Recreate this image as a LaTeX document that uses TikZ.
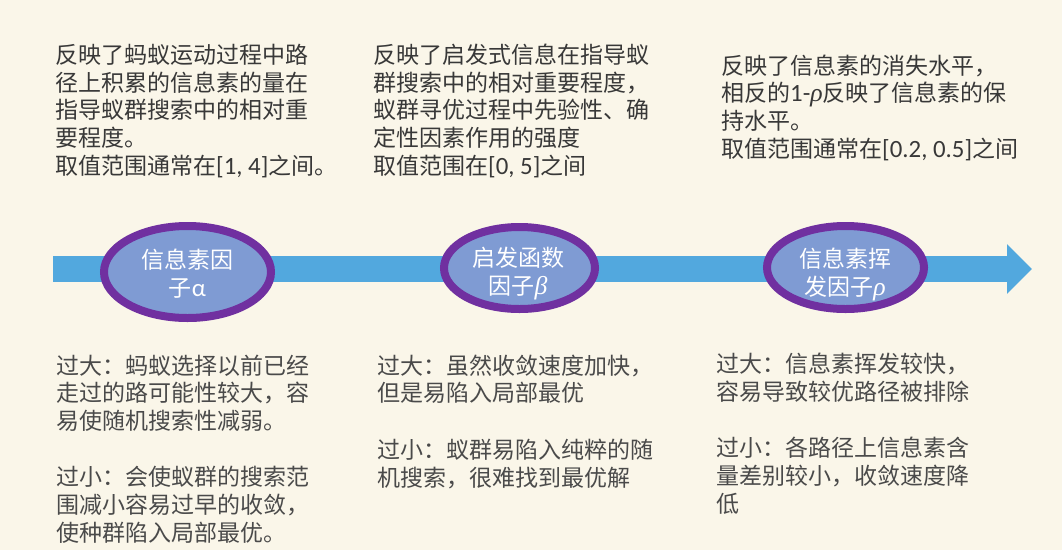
\documentclass[tikz,border=0pt]{standalone}
\usepackage{fontspec}
\newfontfamily\cjk{Noto Sans CJK SC}
\newfontfamily\lat{Carlito}[Scale=1.08]
\newfontfamily\greekit{Liberation Serif}[Scale=1.12]
\usetikzlibrary{shapes.geometric,arrows.meta}
\definecolor{paper}{HTML}{FAF6E9}
\definecolor{axisblue}{HTML}{52A8DE}
\definecolor{ringpurple}{HTML}{7030A0}
\definecolor{discfill}{HTML}{7F9BD3}
\definecolor{notetext}{HTML}{383838}
\definecolor{effecttext}{HTML}{4A4A4A}
% italic Greek symbol inside the running text
\newcommand{\itgreek}[1]{{\greekit\itshape #1}}

\begin{document}
\begin{tikzpicture}[x=1pt,y=-1pt,
  factor/.style={ellipse, draw=ringpurple, line width=8pt, fill=discfill, inner sep=0pt},
  factorlabel/.style={text=white, font=\cjk\fontsize{23}{28}\selectfont, align=center, inner sep=0pt},
  note/.style={anchor=base west, align=left, inner sep=0pt, text=notetext, font=\cjk\fontsize{23}{27.6}\selectfont},
  effect/.style={note, text=effecttext}]
% page background
\fill[paper] (0,0) rectangle (1062,550);
\useasboundingbox (0,0) rectangle (1062,550);

% timeline axis
\coordinate (axisstart) at (53,269);
\coordinate (axisend) at (1032,269);
\draw[axisblue, line width=26pt, line cap=butt, -{Triangle[width=48pt,length=25pt]}] (axisstart) -- (axisend);

% the three parameters on the axis
\node[factor, minimum width=167pt, minimum height=92pt] (alpha) at (187.5,272) {};
\node[factor, minimum width=151pt, minimum height=82pt] (beta) at (519.5,268) {};
\node[factor, minimum width=157pt, minimum height=83pt] (rho) at (845.5,267.5) {};
\node[factorlabel] (alphalabel) at (187.5,274) {信息素因\\子{\lat α}};
\node[factorlabel] (betalabel) at (518,274) {启发函数\\因子\itgreek{β}};
\node[factorlabel] (rholabel) at (845,274) {信息素挥\\发因子\itgreek{ρ}};

% meaning of each parameter (anchored at the baseline of the last line)
\node[note] (alphanote) at (55,174) {反映了蚂蚁运动过程中路\\径上积累的信息素的量在\\指导蚁群搜索中的相对重\\要程度。\\取值范围通常在{\lat [1, 4]}之间。};
\node[note] (betanote) at (373,174) {反映了启发式信息在指导蚁\\群搜索中的相对重要程度，\\蚁群寻优过程中先验性、确\\定性因素作用的强度\\取值范围在{\lat [0, 5]}之间};
\node[note] (rhonote) at (721,157) {反映了信息素的消失水平，\\相反的{\lat 1-}\itgreek{ρ}反映了信息素的保\\持水平。\\取值范围通常在{\lat [0.2, 0.5]}之间};

% effect of too large / too small values
\node[effect] (alphaeffect) at (56,541) {过大：蚂蚁选择以前已经\\走过的路可能性较大，容\\易使随机搜索性减弱。\\[29pt]过小：会使蚁群的搜索范\\围减小容易过早的收敛，\\使种群陷入局部最优。};
\node[effect] (betaeffect) at (377,486) {过大：虽然收敛速度加快，\\但是易陷入局部最优\\[29pt]过小：蚁群易陷入纯粹的随\\机搜索，很难找到最优解};
\node[effect] (rhoeffect) at (716,512) {过大：信息素挥发较快，\\容易导致较优路径被排除\\[29pt]过小：各路径上信息素含\\量差别较小，收敛速度降\\低};
\end{tikzpicture}
\end{document}
